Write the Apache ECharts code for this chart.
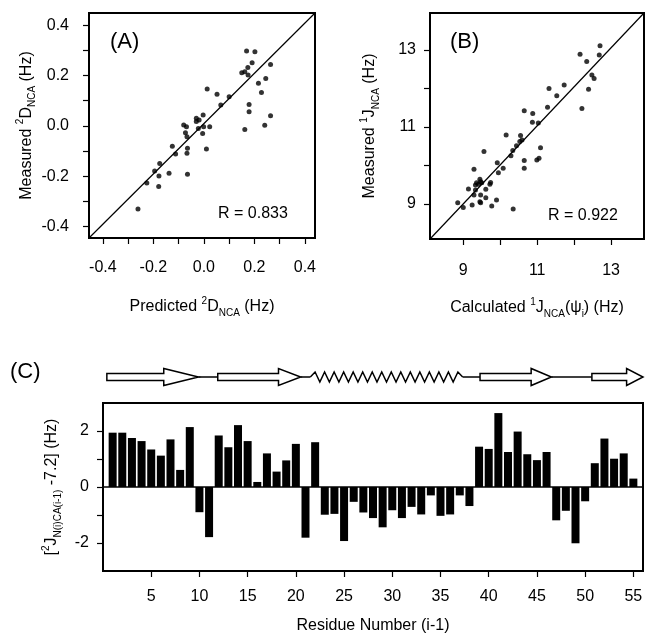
<!DOCTYPE html>
<html>
<head>
<meta charset="utf-8">
<script src="https://cdn.jsdelivr.net/npm/echarts@6/dist/echarts.min.js"></script>
<style>
  html, body { margin: 0; padding: 0; background: #fff; }
  #chart { width: 647px; height: 635px; }
</style>
</head>
<body>
<div id="chart"></div>
<script>
// panel A: predicted vs measured 2D_NCA (Hz)
const predictedA = [-0.261,-0.226,-0.195,-0.178,-0.175,-0.179,-0.138,-0.125,-0.112,-0.080,-0.069,-0.073,-0.067,-0.065,-0.067,-0.065,-0.030,-0.030,-0.019,-0.022,-0.003,-0.005,-0.001,0.013,0.010,0.023,0.052,0.067,0.100,0.150,0.162,0.169,0.174,0.175,0.191,0.202,0.179,0.179,0.162,0.216,0.228,0.245,0.241,0.264,0.264]
const measuredA = [-0.330,-0.227,-0.179,-0.199,-0.149,-0.241,-0.188,-0.081,-0.112,0.003,-0.003,-0.027,-0.043,-0.089,-0.109,-0.192,0.030,0.017,0.023,-0.010,0.043,-0.030,-0.003,0.146,-0.092,-0.003,0.126,0.083,0.116,0.211,0.215,0.297,0.232,0.202,0.251,0.294,0.085,0.056,-0.014,0.169,0.132,0.188,0.002,0.244,0.040]
const rangeAx = [-0.455, 0.44]
const rangeAy = [-0.445, 0.448]
const ticksA = [-0.4,-0.3,-0.2,-0.1,0,0.1,0.2,0.3,0.4]
const labelsA = [-0.4,-0.2,0,0.2,0.4]

// panel B: calculated vs measured 1J_NCA (Hz)
const calculatedB = [8.85,9.00,9.14,9.24,9.29,9.29,9.33,9.33,9.36,9.41,9.45,9.47,9.50,9.47,9.45,9.47,9.56,9.61,9.72,9.74,9.77,9.92,9.90,9.95,10.08,10.16,10.29,10.34,10.35,10.44,10.53,10.55,10.59,10.65,10.65,10.65,10.88,10.87,11.03,10.99,11.05,11.09,11.28,11.32,11.53,11.73,12.16,12.21,12.34,12.39,12.48,12.54,12.68,12.70,9.61]
const measuredB = [9.03,8.91,9.39,8.97,9.90,9.23,9.49,9.36,9.55,9.51,9.64,9.58,9.55,9.23,9.06,9.03,10.36,9.16,9.51,9.56,8.95,10.07,9.10,9.81,9.93,10.79,10.25,10.39,8.87,10.51,10.62,10.78,10.66,11.42,10.13,9.93,11.35,11.12,11.10,10.14,10.19,10.46,11.51,12.00,11.81,12.09,12.89,11.48,12.70,11.98,12.35,12.26,12.87,13.11,9.38]
const rangeBx = [8.1, 13.89]
const rangeBy = [8.09, 13.96]
const ticksB = [9,10,11,12,13]
const labelsB = [9,11,13]

// panel C: [2J_N(i)CA(i-1) - 7.2] per residue
const residues = []
for (let i = 1; i <= 55; i++) residues.push(i)
const deltaJ = [1.94,1.94,1.75,1.64,1.34,1.12,1.70,0.61,2.14,-0.90,
  -1.79,1.84,1.42,2.21,1.64,0.18,1.20,0.55,0.95,1.54,
  -1.81,1.60,-0.99,-0.96,-1.93,-0.53,-0.91,-1.11,-1.44,-0.83,
  -1.11,-0.71,-0.98,-0.30,-1.03,-0.98,-0.30,-0.68,1.44,1.36,
  2.64,1.25,1.98,1.17,0.96,1.25,-1.19,-0.85,-2.01,-0.51,
  0.85,1.73,1.01,1.20,0.30]
const ticksCx = [5,10,15,20,25,30,35,40,45,50,55]
const ticksCy = [-2,-1,0,1,2]
const labelsCy = [-2,0,2]

// secondary structure (residue units): strand [start, head base, tip], coil [from, to], helix [from, to]
const strands = [[0.4, 6.3, 9.9], [11.9, 18.2, 20.5], [39.1, 44.4, 46.5], [50.7, 54.3, 56]]
const coils = [[9.9, 11.9], [20.5, 21.5], [37.3, 39.1], [46.5, 50.7]]
const helices = [[21.5, 37.3]]

const FONT = "'Liberation Sans', Arial, sans-serif"
const rich = {
  n: { fontSize: 16, lineHeight: 22, verticalAlign: 'middle', fontFamily: FONT, color: '#000' },
  sup: { fontSize: 10, lineHeight: 11, verticalAlign: 'top', fontFamily: FONT, color: '#000' },
  sub: { fontSize: 10, lineHeight: 11, verticalAlign: 'bottom', fontFamily: FONT, color: '#000' }
}

function zip(a, b){ return a.map((v, i) => [v, b[i]]) }

function valueAxis(range, ticks, labels, fmt, extra){
  return Object.assign({
    type: 'value', min: range[0], max: range[1],
    axisLine: { show: true, onZero: false, lineStyle: { color: '#000', width: 2 } },
    axisTick: { show: true, inside: false, length: 6, customValues: ticks, lineStyle: { color: '#000', width: 1.2 } },
    axisLabel: { customValues: labels, formatter: fmt, color: '#000', fontSize: 16, fontFamily: FONT },
    splitLine: { show: false },
    nameLocation: 'middle',
    nameTextStyle: { rich: rich }
  }, extra)
}

var chart = echarts.init(document.getElementById('chart'), null, { renderer: 'canvas' })

function strandItem(params, api){
  var s = api.coord([api.value(0), 0])
  var b = api.coord([api.value(1), 0])
  var t = api.coord([api.value(2), 0])
  var y = s[1], h = 3.5, H = 8.5
  return {
    type: 'polygon',
    shape: { points: [[s[0], y - h], [b[0], y - h], [b[0], y - H], [t[0], y], [b[0], y + H], [b[0], y + h], [s[0], y + h]] },
    style: { fill: '#fff', stroke: '#000', lineWidth: 1.5 }
  }
}
function coilItem(params, api){
  var a = api.coord([api.value(0), 0])
  var b = api.coord([api.value(1), 0])
  return { type: 'polyline', shape: { points: [a, b] }, style: { stroke: '#000', lineWidth: 1.5, fill: null } }
}
function helixItem(params, api){
  var x1 = api.value(0), x2 = api.value(1)
  var n = Math.round(x2 - x1)
  var pts = []
  for (var i = 0; i <= 2 * n; i++){
    var p = api.coord([x1 + (x2 - x1) * i / (2 * n), 0])
    var dy = (i === 0 || i === 2 * n) ? 0 : (i % 2 ? -5 : 5)
    pts.push([p[0], p[1] + dy])
  }
  return { type: 'polyline', shape: { points: pts }, style: { stroke: '#000', lineWidth: 1.5, fill: null } }
}

var option = {
  animation: false,
  backgroundColor: '#fff',
  grid: [
    { left: 89, top: 13, width: 226, height: 225, show: true, borderColor: '#000', borderWidth: 2, backgroundColor: 'transparent' },
    { left: 430, top: 13, width: 214, height: 226, show: true, borderColor: '#000', borderWidth: 2, backgroundColor: 'transparent' },
    { left: 103, top: 403, width: 540, height: 171, show: true, borderColor: '#000', borderWidth: 2, backgroundColor: 'transparent' },
    { left: 103, top: 365, width: 540, height: 24, show: false }
  ],
  xAxis: [
    valueAxis(rangeAx, ticksA, labelsA, v => v.toFixed(1), { gridIndex: 0, nameGap: 58,
      name: '{n|Predicted }{sup|2}{n|D}{sub|NCA}{n| (Hz)}', axisLabel: { customValues: labelsA, formatter: v => v.toFixed(1), color: '#000', fontSize: 16, fontFamily: FONT, margin: 22 } }),
    valueAxis(rangeBx, ticksB, labelsB, v => String(v), { gridIndex: 1, nameGap: 58,
      name: '{n|Calculated }{sup|1}{n|J}{sub|NCA}{n|(ψ}{sub|i}{n|) (Hz)}', axisLabel: { customValues: labelsB, color: '#000', fontSize: 16, fontFamily: FONT, margin: 24 } }),
    valueAxis([0, 56], ticksCx, ticksCx, v => String(v), { gridIndex: 2, nameGap: 44,
      name: '{n|Residue Number (i-1)}', axisLabel: { customValues: ticksCx, color: '#000', fontSize: 16, fontFamily: FONT, margin: 18 } }),
    { type: 'value', gridIndex: 3, min: 0, max: 56, show: false }
  ],
  yAxis: [
    valueAxis(rangeAy, ticksA, labelsA, v => v.toFixed(1), { gridIndex: 0, nameGap: 44,
      name: '{n|Measured }{sup|2}{n|D}{sub|NCA}{n| (Hz)}', axisLabel: { customValues: labelsA, formatter: v => v.toFixed(1), color: '#000', fontSize: 16, fontFamily: FONT, margin: 20 } }),
    valueAxis(rangeBy, ticksB, labelsB, v => String(v), { gridIndex: 1, nameGap: 49,
      name: '{n|Measured }{sup|1}{n|J}{sub|NCA}{n| (Hz)}', axisLabel: { customValues: labelsB, color: '#000', fontSize: 16, fontFamily: FONT, margin: 14 } }),
    valueAxis([-3, 3], ticksCy, labelsCy, v => String(v), { gridIndex: 2, nameGap: 40,
      name: '{n|[}{sup|2}{n|J}{sub|N(i)CA(i-1)}{n| -7.2] (Hz)}', axisLabel: { customValues: labelsCy, color: '#000', fontSize: 16, fontFamily: FONT, margin: 14 } }),
    { type: 'value', gridIndex: 3, min: -1, max: 1, show: false }
  ],
  graphic: [
    { type: 'text', left: 110, top: 31, style: { text: '(A)', font: "22px 'Liberation Sans', Arial", fill: '#000' } },
    { type: 'text', left: 218, top: 206, style: { text: 'R = 0.833', font: "16px 'Liberation Sans', Arial", fill: '#000' } },
    { type: 'text', left: 450, top: 31, style: { text: '(B)', font: "22px 'Liberation Sans', Arial", fill: '#000' } },
    { type: 'text', left: 548, top: 208, style: { text: 'R = 0.922', font: "16px 'Liberation Sans', Arial", fill: '#000' } },
    { type: 'text', left: 10, top: 361, style: { text: '(C)', font: "22px 'Liberation Sans', Arial", fill: '#000' } }
  ],
  series: [
    { type: 'line', xAxisIndex: 0, yAxisIndex: 0, data: [[rangeAx[0], rangeAy[0]], [rangeAx[1], rangeAy[1]]],
      symbol: 'none', lineStyle: { color: '#000', width: 1.2 }, silent: true },
    { type: 'scatter', xAxisIndex: 0, yAxisIndex: 0, data: zip(predictedA, measuredA),
      symbolSize: 5, itemStyle: { color: '#000' } },
    { type: 'line', xAxisIndex: 1, yAxisIndex: 1, data: [[rangeBx[0], rangeBy[0]], [rangeBx[1], rangeBy[1]]],
      symbol: 'none', lineStyle: { color: '#000', width: 1.2 }, silent: true },
    { type: 'scatter', xAxisIndex: 1, yAxisIndex: 1, data: zip(calculatedB, measuredB),
      symbolSize: 5, itemStyle: { color: '#000' } },
    { type: 'bar', xAxisIndex: 2, yAxisIndex: 2, data: zip(residues, deltaJ),
      barWidth: 8, itemStyle: { color: '#000' },
      markLine: { silent: true, symbol: 'none', label: { show: false },
        lineStyle: { color: '#000', width: 1.5, type: 'solid' }, data: [{ yAxis: 0 }] } },
    { type: 'custom', xAxisIndex: 3, yAxisIndex: 3, data: coils, renderItem: coilItem, clip: false, silent: true },
    { type: 'custom', xAxisIndex: 3, yAxisIndex: 3, data: helices, renderItem: helixItem, clip: false, silent: true },
    { type: 'custom', xAxisIndex: 3, yAxisIndex: 3, data: strands, renderItem: strandItem, clip: false, silent: true }
  ]
}
chart.setOption(option)
</script>
</body>
</html>
